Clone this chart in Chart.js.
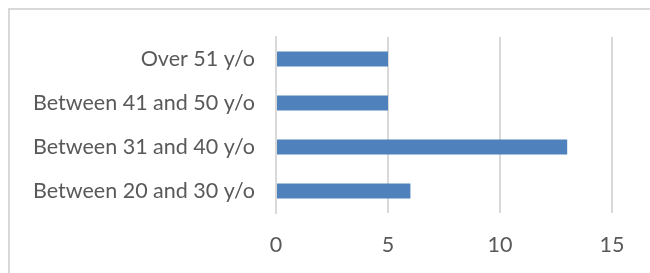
<!DOCTYPE html>
<html>
<head>
<meta charset="utf-8">
<script src="https://cdn.jsdelivr.net/npm/chart.js@4/dist/chart.umd.min.js"></script>
<style>
  html, body { margin: 0; padding: 0; background: #fff; overflow: hidden; }
  #wrap { position: relative; width: 650px; height: 273px; }
  #frame { position: absolute; left: 8px; top: 8px; width: 700px; height: 300px;
           border-left: 2px solid #d9d9d9; border-top: 2px solid #d9d9d9; box-sizing: border-box; }
  canvas { position: absolute; left: 0; top: 0; }
</style>
</head>
<body>
<div id="wrap">
  <div id="frame"></div>
  <canvas id="chart" width="650" height="273"></canvas>
</div>
<script>
const categories = ["Over 51 y/o", "Between 41 and 50 y/o", "Between 31 and 40 y/o", "Between 20 and 30 y/o"];
const values = [5, 5, 13, 6];
const xTicks = [0, 5, 10, 15];

const textColor = "#595959";
const gridColor = "#d9d9d9";
const font = { family: "Lato", size: 21.5 };

const ctx = document.getElementById("chart").getContext("2d");
new Chart(ctx, {
  type: "bar",
  data: {
    labels: categories,
    datasets: [{
      data: values,
      backgroundColor: "#4f81bd",
      borderWidth: 0,
      categoryPercentage: 1,
      barPercentage: 0.34
    }]
  },
  options: {
    indexAxis: "y",
    responsive: false,
    animation: false,
    layout: { padding: { left: 0, top: 37, right: 38, bottom: 0 } },
    plugins: { legend: { display: false }, tooltip: { enabled: false } },
    scales: {
      x: {
        min: 0,
        max: 15,
        afterBuildTicks: scale => { scale.ticks = xTicks.map(v => ({ value: v })); },
        afterFit: scale => { scale.height = 60; },
        grid: { color: gridColor, lineWidth: 2, drawTicks: false },
        border: { display: false },
        ticks: { color: textColor, font: font, padding: 19 }
      },
      y: {
        afterFit: scale => { scale.width = 276; },
        grid: { display: false },
        border: { display: true, color: gridColor, width: 2 },
        ticks: { color: textColor, font: font, padding: 13 }
      }
    }
  }
});
</script>
</body>
</html>
